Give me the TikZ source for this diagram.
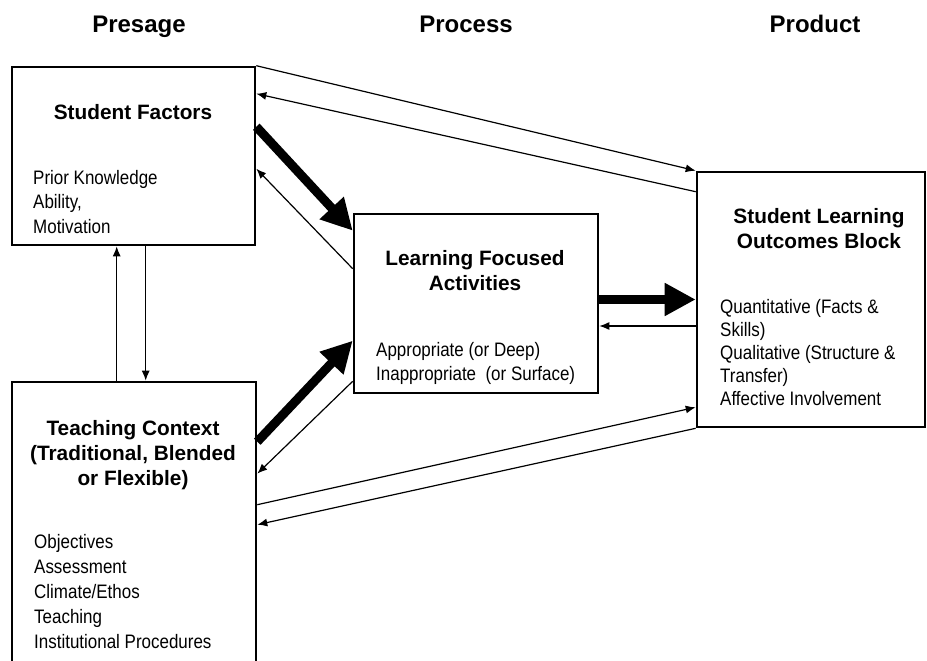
\documentclass[tikz,border=0pt]{standalone}
\usepackage{fontspec}
\setmainfont{Liberation Sans}
\newfontfamily\narrowfont[FakeStretch=0.87]{Liberation Sans}
\usetikzlibrary{arrows.meta}

\begin{document}
\begin{tikzpicture}[
	x=1pt,y=-1pt,
	box/.style={draw,line width=2.6pt,inner sep=0pt},
	title/.style={font=\fontsize{24}{28}\selectfont\bfseries,inner sep=0pt,anchor=base},
	head/.style={font=\fontsize{20.8}{25}\selectfont\bfseries,inner sep=0pt,anchor=base},
	item/.style={font=\narrowfont\fontsize{19.5}{24}\selectfont,inner sep=0pt,anchor=base west},
	link/.style={line width=1.2pt,-{Latex[length=10pt,width=8pt]}},
	mainlink/.style={line width=9pt,-{Triangle[length=31pt,width=31pt]}}
]
\path[use as bounding box,clip] (0,0) rectangle (927,661);
%\draw[step=50,black!10] (0,0) grid (927,661);
% column titles
\node[title] (presage) at (139,33) {Presage};
\node[title] (process) at (466,33) {Process};
\node[title] (product) at (815,33) {Product};
% blocks
\node[box,minimum width=243,minimum height=178] (sf) at (133.5,156) {};
\node[box,minimum width=244,minimum height=298] (tc) at (134,531) {};
\node[box,minimum width=244,minimum height=179] (lfa) at (476,303.5) {};
\node[box,minimum width=228,minimum height=255] (slo) at (811,299.5) {};
% block texts
\node[head] (sf-h) at (133,120) {Student Factors};
\foreach \t [count=\i from 0] in {Prior Knowledge,{Ability,},Motivation}
	\node[item] (sf-\i) at (33,184+24.5*\i) {\t};
\foreach \t [count=\i from 0] in {Teaching Context,{(Traditional, Blended},or Flexible)}
	\node[head] (tc-h\i) at (133,435+25*\i) {\t};
\foreach \t [count=\i from 0] in {Objectives,Assessment,Climate/Ethos,Teaching,Institutional Procedures}
	\node[item] (tc-\i) at (34,548+25.2*\i) {\t};
\foreach \t [count=\i from 0] in {Learning Focused,Activities}
	\node[head] (lfa-h\i) at (475,265+25.5*\i) {\t};
\foreach \t [count=\i from 0] in {Appropriate (or Deep),Inappropriate\ \ (or Surface)}
	\node[item] (lfa-\i) at (376,356+24*\i) {\t};
\foreach \t [count=\i from 0] in {Student Learning,Outcomes Block}
	\node[head] (slo-h\i) at (819,223+25*\i) {\t};
\foreach \t [count=\i from 0] in {Quantitative (Facts \&,Skills),Qualitative (Structure \&,Transfer),Affective Involvement}
	\node[item] (slo-\i) at (720,313+23*\i) {\t};
% presage <-> product
\draw[link] (sf.north east) -- (slo.north west);
\draw[link] ([yshift=-21]slo.north west) -- ([yshift=-28]sf.north east);
\draw[link] ([yshift=-124]tc.north east) -- ([yshift=21]slo.south west);
\draw[link] (slo.south west) -- ([yshift=-144]tc.north east);
% presage <-> process
\draw[mainlink] ([yshift=-61]sf.north east) -- ([yshift=-18]lfa.north west);
\draw[link] ([yshift=-56]lfa.north west) -- ([yshift=-103]sf.north east);
\draw[mainlink] ([yshift=-61]tc.north east) -- ([yshift=-128]lfa.north west);
\draw[link] ([yshift=13]lfa.south west) -- ([yshift=-93]tc.north east);
% student factors <-> teaching context
\draw[link] ([xshift=106]tc.north west) -- ([xshift=106]sf.south west);
\draw[link] ([xshift=135]sf.south west) -- ([xshift=135]tc.north west);
% process <-> product
\draw[mainlink] (slo.west -| lfa.east) -- (slo.west);
\draw[link] ([yshift=-26.5]slo.west) -- ([yshift=-22.5]lfa.east);
\end{tikzpicture}
\end{document}
